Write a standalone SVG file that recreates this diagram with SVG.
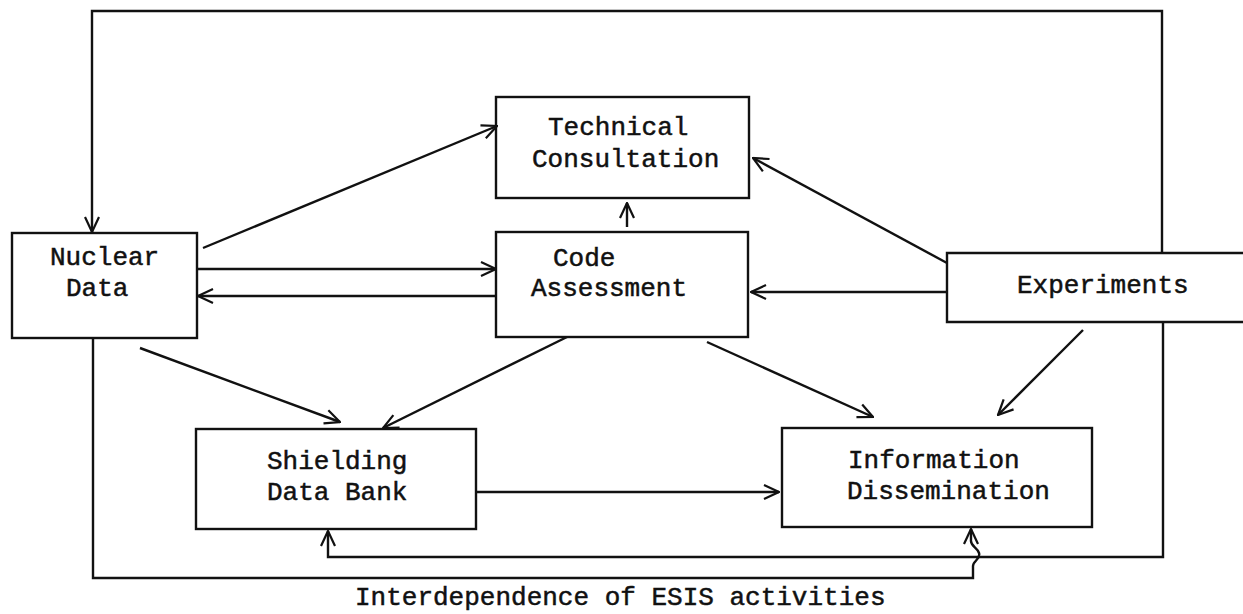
<svg xmlns="http://www.w3.org/2000/svg" width="1243" height="614" viewBox="0 0 1243 614">
<style>
.box{fill:none;stroke:#111;stroke-width:2.4}
.ln{fill:none;stroke:#111;stroke-width:2.4}
.t{font-family:"Liberation Mono","Courier New",monospace;font-size:26px;fill:#111;stroke:#111;stroke-width:0.5}
</style>
<defs>
<marker id="ah" viewBox="0 0 18 18" refX="17" refY="9" markerWidth="18" markerHeight="18" orient="auto" markerUnits="userSpaceOnUse">
<path d="M2,2 L17,9 L2,16" fill="none" stroke="#111" stroke-width="2.2"/>
</marker>
</defs>
<rect width="1243" height="614" fill="#fff"/>
<g id="nuclear-data">
<rect class="box" x="12" y="233" width="185" height="105"/>
<text class="t" x="50" y="265">Nuclear</text>
<text class="t" x="66" y="296">Data</text>
</g>
<g id="technical-consultation">
<rect class="box" x="496" y="97" width="253" height="101"/>
<text class="t" x="548" y="135">Technical</text>
<text class="t" x="532" y="167">Consultation</text>
</g>
<g id="code-assessment">
<rect class="box" x="496" y="232" width="252" height="105"/>
<text class="t" x="553" y="266">Code</text>
<text class="t" x="531" y="296">Assessment</text>
</g>
<g id="experiments">
<path class="box" d="M1243,253 H947 V322 H1243"/>
<text class="t" x="1017" y="293">Experiments</text>
</g>
<g id="shielding-data-bank">
<rect class="box" x="196" y="429" width="280" height="100"/>
<text class="t" x="267" y="469">Shielding</text>
<text class="t" x="267" y="500">Data Bank</text>
</g>
<g id="information-dissemination">
<rect class="box" x="782" y="428" width="310" height="99"/>
<text class="t" x="848" y="468">Information</text>
<text class="t" x="847" y="499">Dissemination</text>
</g>
<g id="connectors">
<line class="ln" x1="203" y1="248" x2="497" y2="126" marker-end="url(#ah)"/>
<line class="ln" x1="627" y1="227" x2="627" y2="203" marker-end="url(#ah)"/>
<line class="ln" x1="197" y1="269" x2="496" y2="269" marker-end="url(#ah)"/>
<line class="ln" x1="496" y1="296" x2="198" y2="296" marker-end="url(#ah)"/>
<line class="ln" x1="947" y1="263" x2="753" y2="158" marker-end="url(#ah)"/>
<line class="ln" x1="947" y1="292" x2="751" y2="292" marker-end="url(#ah)"/>
<line class="ln" x1="140" y1="348" x2="340" y2="422" marker-end="url(#ah)"/>
<line class="ln" x1="567" y1="337" x2="383" y2="428" marker-end="url(#ah)"/>
<line class="ln" x1="476" y1="492" x2="779" y2="492" marker-end="url(#ah)"/>
<line class="ln" x1="707" y1="342" x2="873" y2="417" marker-end="url(#ah)"/>
<line class="ln" x1="1083" y1="330" x2="998" y2="415" marker-end="url(#ah)"/>
<path class="ln" d="M1162,253 V11 H92 V232" marker-end="url(#ah)"/>
<path class="ln" d="M1163,322 V557 H328 V531" marker-end="url(#ah)"/>
<path class="ln" d="M93,338 V578 H973 V566 C973,561 981,559 979,553 C977,547 970,546 971,540 V529" marker-end="url(#ah)"/>
</g>
<text class="t" x="355" y="605">Interdependence of ESIS activities</text>
</svg>
